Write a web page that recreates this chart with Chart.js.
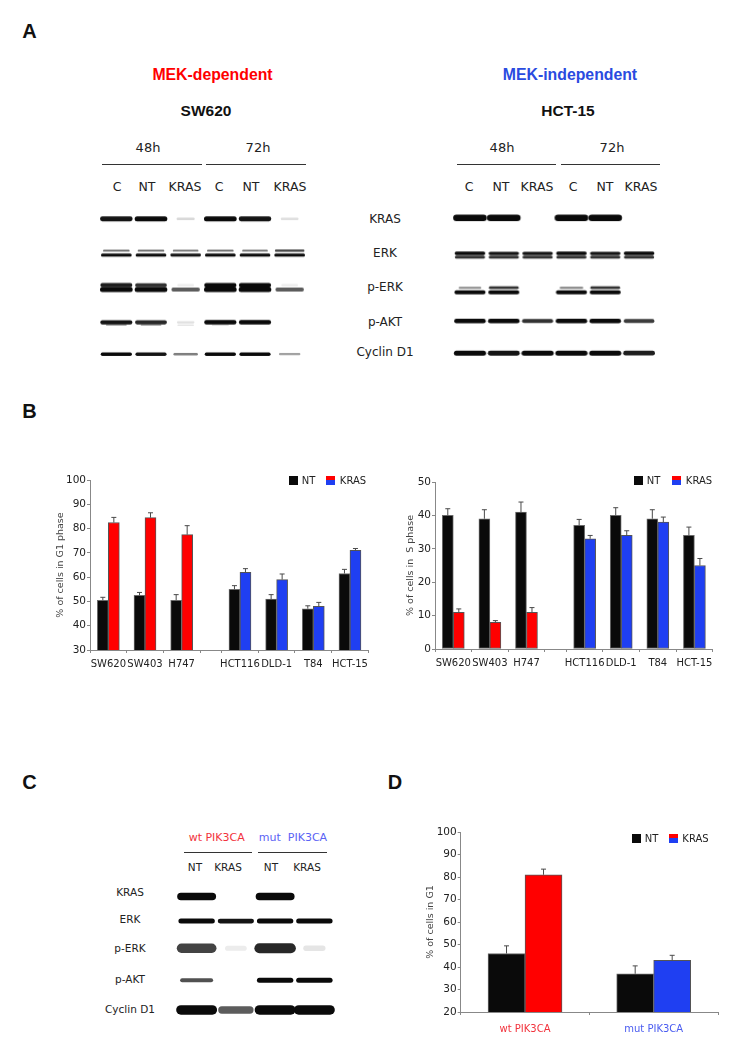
<!DOCTYPE html>
<html><head><meta charset="utf-8">
<script src="https://cdn.jsdelivr.net/npm/chart.js@4"></script>
<style>
html,body{margin:0;padding:0;background:#fff;width:746px;height:1050px;overflow:hidden}
body{position:relative;font-family:"DejaVu Sans",sans-serif;color:#222}
canvas{position:absolute;display:block}
.t{position:absolute;transform:translate(-50%,-50%);white-space:pre;line-height:1}
.h{font-family:"Liberation Sans",sans-serif}
.rule{position:absolute;height:1.3px;background:#333}
.sw{position:absolute;width:9px;height:9px}
</style></head><body>
<script>
// ---------- bar chart data ----------
const g1Categories = ["SW620","SW403","H747","HCT116","DLD-1","T84","HCT-15"];
const g1NT     = [50.5,52.5,50.5,55,51,47,61.5];
const g1NTErr  = [1.2,1.2,2.3,1.5,1.8,1.2,1.7];
const g1KRAS   = [82.5,84.5,77.5,62,59,48,71];
const g1KRASErr= [2.1,2,3.7,1.5,2.3,1.6,0.8];
const sCategories = ["SW620","SW403","H747","HCT116","DLD-1","T84","HCT-15"];
const sNT      = [40,39,41,37,40,39,34];
const sNTErr   = [2,2.7,3,1.8,2.3,2.7,2.5];
const sKRAS    = [11,8,11,33,34,38,25];
const sKRASErr = [1,0.5,1.4,1,1.4,1.5,2.1];
const pikCategories = ["wt PIK3CA","mut PIK3CA"];
const pikNT      = [46,37];
const pikNTErr   = [3.4,3.5];
const pikKRAS    = [81,43];
const pikKRASErr = [2.5,2.2];
// ---------- blot band intensities (0 = no band, 1 = saturated), one per lane ----------
const swKRAS   = [.95,1,.1,1,.95,.08];
const swERKa   = [.6,.6,.55,.6,.55,.75];
const swERKb   = [1,1,.95,1,1,1];
const swPERKa  = [.9,.8,.04,1,1,.04];
const swPERKb  = [1,1,.6,1,1,.6];
const swPAKTa  = [.95,.85,.08,1,1,0];
const swPAKTb  = [.3,.3,.08,.1,0,0];
const swCCND1  = [1,.95,.45,1,1,.3];
const hctKRAS  = [1,1,0,1,1,0];
const hctERKa  = [1,.95,.95,1,.95,1];
const hctERKb  = [.8,.8,.8,.8,.8,.8];
const hctPERKa = [.4,.8,0,.45,.8,0];
const hctPERKb = [1,1,0,1,1,0];
const hctPAKT  = [1,1,.8,1,1,.75];
const hctCCND1 = [1,.95,1,1,1,.9];
const pikBlotKRAS  = [1,0,1,0];
const pikBlotERK   = [1,.95,1,1];
const pikBlotPERK  = [.72,.04,.85,.06];
const pikBlotPAKT  = [.65,0,1,1];
const pikBlotCCND1 = [1,.6,1,1];
const rowLabels = ["KRAS","ERK","p-ERK","p-AKT","Cyclin D1"];
const laneLabels = ["C","NT","KRAS","C","NT","KRAS"];

// ---------- style ----------
const RED="#ff0000",BLUE="#1f3ff2",FONT='"DejaVu Sans", sans-serif',AXIS="#888";
Chart.defaults.font.family=FONT;
Chart.defaults.animation=false;
Chart.defaults.responsive=false;
Chart.defaults.devicePixelRatio=1;

function mk(left,top,w,h){
  const c=document.createElement('canvas');c.width=w;c.height=h;
  c.style.left=left+'px';c.style.top=top+'px';c.style.width=w+'px';c.style.height=h+'px';
  document.body.appendChild(c);return c;
}
function text(s,x,y,size,o={}){
  const e=document.createElement('div');e.className='t'+(o.head?' h':'');e.textContent=s;
  e.style.left=x+'px';e.style.top=y+'px';e.style.fontSize=size+'px';
  if(o.color)e.style.color=o.color;if(o.weight)e.style.fontWeight=o.weight;
  document.body.appendChild(e);
}
function rule(x0,x1,y){const e=document.createElement('div');e.className='rule';
  e.style.left=x0+'px';e.style.width=(x1-x0)+'px';e.style.top=y+'px';document.body.appendChild(e);}
function legend(xNT,xK,y){
  let s=document.createElement('div');s.className='sw';s.style.left=xNT+'px';s.style.top=y+'px';s.style.background='#0a0a0a';document.body.appendChild(s);
  text('NT',xNT+19.5,y+4.5,10);
  s=document.createElement('div');s.className='sw';s.style.left=xK+'px';s.style.top=y+'px';
  s.style.background=`linear-gradient(${RED} 50%,${BLUE} 50%)`;document.body.appendChild(s);
  text('KRAS',xK+27,y+4.5,10);
}
// upper error bars, read through the chart's own scales
const errorBars={id:'errorBars',afterDatasetsDraw(ch){
  const c=ch.ctx,ys=ch.scales.y;c.save();c.strokeStyle='#4a4a4a';c.lineWidth=1;
  ch.data.datasets.forEach((d,i)=>{
    ch.getDatasetMeta(i).data.forEach((b,k)=>{
      const val=typeof d.data[k]==='object'?d.data[k].y:d.data[k];
      const top=ys.getPixelForValue(val+d.err[k]),base=ys.getPixelForValue(val);
      c.beginPath();c.moveTo(b.x,base);c.lineTo(b.x,top);
      c.moveTo(b.x-2.5,top);c.lineTo(b.x+2.5,top);c.stroke();
    });
  });c.restore();
}};
const tickFont={size:10};
function yAxis(min,max,step,title,axisW){return {
  min,max,
  afterFit(s){s.width=axisW;},
  title:{display:true,text:title,color:'#444',font:{size:9.5},padding:{top:5,bottom:0}},
  ticks:{stepSize:step,color:'#222',font:{size:10.5},padding:1},
  grid:{drawOnChartArea:false,color:AXIS,tickLength:3},
  border:{color:AXIS}
};}
// cell-line panel: seven groups with a narrower empty slot after the third
function cellPanel(cv,cats,nt,ntE,kr,krE,yOpt,areaPad){
  const GAP=0.59;
  const pos=i=>i<3?i+.5:i+.5+GAP;
  const edges=[0,1,2,3,3+GAP,4+GAP,5+GAP,6+GAP,7+GAP];
  const centres=cats.map((_,i)=>pos(i));
  new Chart(cv,{type:'bar',plugins:[errorBars],
    data:{datasets:[
      {label:'NT',data:nt.map((v,i)=>({x:pos(i),y:v})),err:ntE,backgroundColor:'#0a0a0a',borderColor:'#6a6a6a',borderWidth:1,borderSkipped:false},
      {label:'KRAS',data:kr.map((v,i)=>({x:pos(i),y:v})),err:krE,backgroundColor:cats.map((_,i)=>i<3?RED:BLUE),borderColor:'#555',borderWidth:1,borderSkipped:false}
    ]},
    options:{layout:{padding:areaPad},barThickness:11,
      plugins:{legend:{display:false},tooltip:{enabled:false}},
      scales:{
        x:{type:'linear',min:0,max:7+GAP,offset:false,
          afterFit(s){s.height=20;},
          afterBuildTicks(s){s.ticks=[...edges,...centres].sort((a,b)=>a-b).map(v=>({value:v}));},
          ticks:{autoSkip:false,maxRotation:0,color:'#222',font:tickFont,padding:5,
            callback(v){const i=centres.findIndex(c=>Math.abs(c-v)<1e-6);return i>=0?cats[i]:'';}},
          grid:{offset:false,drawOnChartArea:false,tickLength:3,
            tickColor:c=>centres.some(v=>Math.abs(v-c.tick.value)<1e-6)?'rgba(0,0,0,0)':AXIS},
          border:{color:AXIS}},
        y:yOpt
      }}});
}
// blot panels: a band is a short thick line across its lane
const bandBlur={id:'bandBlur',
  beforeDatasetsDraw(ch){ch.ctx.save();ch.ctx.filter='blur(0.45px)';},
  afterDatasetsDraw(ch){ch.ctx.restore();}};
function blot(cv,lanes,xPad,yMin,yMax,tracks){
  const datasets=[];
  tracks.forEach(([row,vals,thick])=>{
    vals.forEach((v,i)=>{
      if(v<=0)return;
      const half=.2+.2*Math.min(1,v*1.3);
      const g=Math.round(255-245*Math.pow(v,.8));
      datasets.push({data:[{x:i-half,y:row},{x:i+half,y:row}],
        borderColor:`rgb(${g},${g},${g})`,borderWidth:thick*(.45+.55*v),
        borderCapStyle:'round',pointRadius:0,tension:0,clip:false});
    });
  });
  new Chart(cv,{type:'line',plugins:[bandBlur],data:{datasets},
    options:{layout:{padding:{left:xPad,right:xPad,top:0,bottom:0}},
      plugins:{legend:{display:false},tooltip:{enabled:false}},
      scales:{x:{type:'linear',display:false,min:-.5,max:lanes-.5},
              y:{type:'linear',display:false,min:yMin,max:yMax,reverse:true}}}});
}

// ---------- panel A ----------
text('A',29.5,30.7,20,{weight:700,color:'#111',head:1});
text('MEK-dependent',212.5,75,15.8,{weight:700,color:RED,head:1});
text('MEK-independent',570,75,15.8,{weight:700,color:'#2a4be0',head:1});
text('SW620',206,110.7,15.5,{weight:700,color:'#111',head:1});
text('HCT-15',568,110.7,15.5,{weight:700,color:'#111',head:1});
text('48h',148,146.5,13);text('72h',258,146.5,13);
text('48h',502,146.5,13);text('72h',612,146.5,13);
rule(102,202,164);rule(206,306,164);rule(457,556,164);rule(561,660,164);
[117,147,185,219,251,290].forEach((x,i)=>text(laneLabels[i],x,187,12.5));
[469,501,537,573,605,641].forEach((x,i)=>text(laneLabels[i],x,187,12.5));
[219,252.7,287,321.7,352.3].forEach((y,i)=>text(rowLabels[i],385,y,12));

blot(mk(88.6,202.1,228.8,168.75),6,10,-.5,4.5,[
  [0,swKRAS,5],
  [.94,swERKa,2.5],[1.07,swERKb,3],
  [1.96,swPERKa,4.5],[2.09,swPERKb,5],
  [3.06,swPAKTa,4.5],[3.14,swPAKTb,2.5],
  [4,swCCND1,3.5]]);
blot(mk(443.1,201.1,222.8,168.75),6,10,-.5,4.5,[
  [0,hctKRAS,6.5],
  [1.05,hctERKa,3.5],[1.16,hctERKb,3.5],
  [2.065,hctPERKa,3],[2.2,hctPERKb,4],
  [3.05,hctPAKT,4.5],
  [4,hctCCND1,5]]);

// ---------- panel B ----------
text('B',29.5,411,20,{weight:700,color:'#111',head:1});
cellPanel(mk(50,470,330,200),g1Categories,g1NT,g1NTErr,g1KRAS,g1KRASErr,
  yAxis(30,100,10,'% of cells in G1 phase',40),{top:10,right:11.7,left:0,bottom:0});
cellPanel(mk(400,471.7,328,197.6),sCategories,sNT,sNTErr,sKRAS,sKRASErr,
  yAxis(0,50,10,'% of cells in  S phase',35),{top:10,right:15.3,left:0,bottom:0});
legend(289,326,476);
legend(634,672,476);

// ---------- panel C ----------
text('C',29.5,782,20,{weight:700,color:'#111',head:1});
text('D',395,782,20,{weight:700,color:'#111',head:1});
text('wt PIK3CA',216.7,837,11,{color:'#f2323c'});
text('mut  PIK3CA',293,837,11,{color:'#5a62f5'});
rule(184,252,852);rule(258,327,852);
[[195,'NT'],[228,'KRAS'],[271,'NT'],[307,'KRAS']].forEach(([x,s])=>text(s,x,867,10.5));
[892,919,948,979,1009].forEach((y,i)=>text(rowLabels[i],130,y,10.5));
blot(mk(166.85,880.5,177.3,145.7),4,10,-.5,4.2,[
  [0,pikBlotKRAS,7.5],
  [.8,pikBlotERK,5],
  [1.68,pikBlotPERK,11],
  [2.72,pikBlotPAKT,5],
  [3.68,pikBlotCCND1,9.5]]);

// ---------- panel D ----------
new Chart(mk(420,822.3,310,212),{type:'bar',plugins:[errorBars],
  data:{labels:pikCategories,datasets:[
    {label:'NT',data:pikNT,err:pikNTErr,backgroundColor:'#0a0a0a',borderColor:'#6a6a6a',borderWidth:1,borderSkipped:false},
    {label:'KRAS',data:pikKRAS,err:pikKRASErr,backgroundColor:[RED,BLUE],borderColor:'#555',borderWidth:1,borderSkipped:false}
  ]},
  options:{layout:{padding:{top:10,right:12,left:0,bottom:0}},barThickness:37,
    plugins:{legend:{display:false},tooltip:{enabled:false}},
    scales:{
      x:{afterFit(s){s.height=22;},
        ticks:{color:c=>c.index===0?'#f2323c':'#4a5cf0',font:tickFont,padding:8,maxRotation:0},
        grid:{drawOnChartArea:false,color:AXIS,tickLength:3},border:{color:AXIS}},
      y:yAxis(20,100,10,'% of cells in G1',40.7)
    }}});
legend(632,668.5,834);
</script>
</body></html>
